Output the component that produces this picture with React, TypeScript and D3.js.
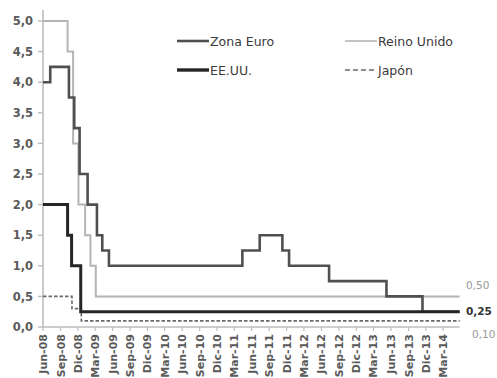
import React from "react";
import * as d3 from "d3";

// Policy rates (%) — each series is a list of change dates and the rate that starts on that date
const euroDates = ["2008-06-01", "2008-07-09", "2008-10-15", "2008-11-12", "2008-12-10", "2009-01-21", "2009-03-11", "2009-04-08", "2009-05-13", "2011-04-13", "2011-07-13", "2011-11-09", "2011-12-14", "2012-07-11", "2013-05-08", "2013-11-13"];
const euroRates = [4.0, 4.25, 3.75, 3.25, 2.5, 2.0, 1.5, 1.25, 1.0, 1.25, 1.5, 1.25, 1.0, 0.75, 0.5, 0.25];

const ukDates = ["2008-06-01", "2008-10-08", "2008-11-06", "2008-12-04", "2009-01-08", "2009-02-05", "2009-03-05"];
const ukRates = [5.0, 4.5, 3.0, 2.0, 1.5, 1.0, 0.5];

const usDates = ["2008-06-01", "2008-10-08", "2008-10-29", "2008-12-16"];
const usRates = [2.0, 1.5, 1.0, 0.25];

const jpDates = ["2008-06-01", "2008-10-31", "2008-12-19"];
const jpRates = [0.5, 0.3, 0.1];

const lastDate = "2014-05-27";

const yTicks = [0, 0.5, 1, 1.5, 2, 2.5, 3, 3.5, 4, 4.5, 5];
const tickDates = ["2008-06-01", "2008-09-01", "2008-12-01", "2009-03-01", "2009-06-01", "2009-09-01", "2009-12-01", "2010-03-01", "2010-06-01", "2010-09-01", "2010-12-01", "2011-03-01", "2011-06-01", "2011-09-01", "2011-12-01", "2012-03-01", "2012-06-01", "2012-09-01", "2012-12-01", "2013-03-01", "2013-06-01", "2013-09-01", "2013-12-01", "2014-03-01"];
const tickLabels = ["Jun-08", "Sep-08", "Dic-08", "Mar-09", "Jun-09", "Sep-09", "Dic-09", "Mar-10", "Jun-10", "Sep-10", "Dic-10", "Mar-11", "Jun-11", "Sep-11", "Dic-11", "Mar-12", "Jun-12", "Sep-12", "Dic-12", "Mar-13", "Jun-13", "Sep-13", "Dic-13", "Mar-14"];

const endLabels = ["0,50", "0,25", "0,10"];
const endValues = [0.5, 0.25, 0.1];

const parse = d3.timeParse("%Y-%m-%d");
const W = 497;
const H = 378;
const FONT = "'DejaVu Sans', 'Liberation Sans', Arial, sans-serif";

const x = d3.scaleTime().domain([parse("2008-06-01")!, parse("2014-06-01")!]).range([43, 460.6]);
const y = d3.scaleLinear().domain([0, 5]).range([327, 21]);

type Pt = { d: Date; v: number };
function steps(dates: string[], rates: number[]): Pt[] {
  const pts = dates.map((s, i) => ({ d: parse(s)!, v: rates[i] }));
  pts.push({ d: parse(lastDate)!, v: rates[rates.length - 1] });
  return pts;
}

const line = d3
  .line<Pt>()
  .x((p) => x(p.d))
  .y((p) => y(p.v))
  .curve(d3.curveStepAfter);

const series = [
  { name: "Reino Unido", pts: steps(ukDates, ukRates), color: "#b4b4b4", width: 2, dash: undefined as string | undefined },
  { name: "Japón", pts: steps(jpDates, jpRates), color: "#6a6a6a", width: 1.6, dash: "3.5,2" },
  { name: "Zona Euro", pts: steps(euroDates, euroRates), color: "#505050", width: 2.6, dash: undefined },
  { name: "EE.UU.", pts: steps(usDates, usRates), color: "#262626", width: 3, dash: undefined },
];

const legend = [
  { name: "Zona Euro", lx: 177, ly: 41, color: "#505050", width: 2.6, dash: undefined as string | undefined },
  { name: "Reino Unido", lx: 345, ly: 41, color: "#b4b4b4", width: 1.6, dash: undefined },
  { name: "EE.UU.", lx: 177, ly: 70, color: "#262626", width: 3.4, dash: undefined },
  { name: "Japón", lx: 345, ly: 70, color: "#6a6a6a", width: 1.6, dash: "5,3" },
];

const endStyle = [
  { dy: -11, fill: "#9a9a9a", weight: "normal", dx: 0 },
  { dy: 0, fill: "#333333", weight: "bold", dx: 0 },
  { dy: 13, fill: "#9a9a9a", weight: "normal", dx: 6 },
];

export default function App() {
  const axisColor = "#bdbdbd";
  return (
    <svg
      width={W}
      height={H}
      viewBox={`0 0 ${W} ${H}`}
      style={{ position: "absolute", left: 0, top: 0, background: "#fff" }}
      fontFamily={FONT}
    >
      <rect width={W} height={H} fill="#fff" />

      {/* y axis */}
      <line x1={43} x2={43} y1={10} y2={y(0)} stroke={axisColor} strokeWidth={1.6} />
      {yTicks.map((t) => (
        <g key={t}>
          <line x1={38} x2={43} y1={y(t)} y2={y(t)} stroke={axisColor} strokeWidth={1.4} />
          <text x={33} y={y(t)} dy="0.36em" textAnchor="end" fontSize={11.5} fontWeight="bold" fill="#5a5a5a">
            {d3.format(".1f")(t).replace(".", ",")}
          </text>
        </g>
      ))}

      {/* x axis */}
      <line x1={43} x2={x(parse(lastDate)!)} y1={y(0)} y2={y(0)} stroke={axisColor} strokeWidth={1.6} />
      {tickDates.map((s, i) => {
        const tx = x(parse(s)!);
        return (
          <g key={s}>
            <line x1={tx} x2={tx} y1={y(0)} y2={y(0) + 4} stroke={axisColor} strokeWidth={1.2} />
            <text
              transform={`translate(${tx + 4},${y(0) + 7}) rotate(-90)`}
              textAnchor="end"
              fontSize={11}
              fontWeight="bold"
              fill="#5a5a5a"
            >
              {tickLabels[i]}
            </text>
          </g>
        );
      })}

      {/* rate lines */}
      {series.map((s) => (
        <path
          key={s.name}
          d={line(s.pts) ?? ""}
          fill="none"
          stroke={s.color}
          strokeWidth={s.width}
          strokeDasharray={s.dash}
          strokeLinejoin="miter"
        />
      ))}

      {/* end-of-period values */}
      {endLabels.map((lab, i) => (
        <text
          key={lab}
          x={466 + endStyle[i].dx}
          y={y(endValues[i]) + endStyle[i].dy}
          dy="0.36em"
          fontSize={10.5}
          fontWeight={endStyle[i].weight}
          fill={endStyle[i].fill}
        >
          {lab}
        </text>
      ))}

      {/* legend */}
      {legend.map((l) => (
        <g key={l.name}>
          <line x1={l.lx} x2={l.lx + 32} y1={l.ly} y2={l.ly} stroke={l.color} strokeWidth={l.width} strokeDasharray={l.dash} />
          <text x={l.lx + 33} y={l.ly} dy="0.36em" fontSize={12.5} fill="#3a3a3a">
            {l.name}
          </text>
        </g>
      ))}
    </svg>
  );
}
